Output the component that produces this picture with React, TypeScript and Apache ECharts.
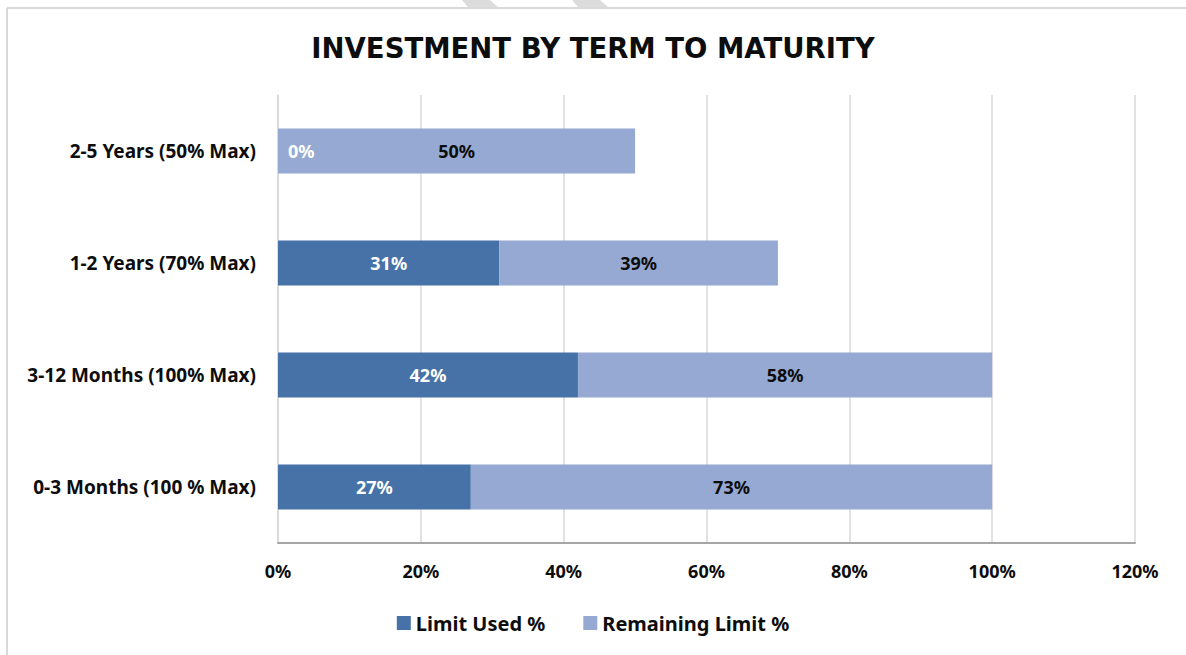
import React, { useEffect, useRef } from "react";
import * as echarts from "echarts";

const categories = [
  "0-3 Months (100 % Max)",
  "3-12 Months (100% Max)",
  "1-2 Years (70% Max)",
  "2-5 Years (50% Max)",
];
const limitUsed = [27, 42, 31, 0];
const remaining = [73, 58, 39, 50];
const xTicks = { min: 0, max: 120, interval: 20 };

const FONT = "'Noto Sans', 'Open Sans', sans-serif";

export default function App() {
  const ref = useRef<HTMLDivElement>(null);
  useEffect(() => {
    document.body.style.margin = "0";
    const chart = echarts.init(ref.current!, null, { renderer: "svg" });
    chart.setOption({
      animation: false,
      backgroundColor: "#ffffff",
      title: {
        text: "INVESTMENT BY TERM TO MATURITY",
        left: "center",
        top: 29,
        textStyle: { fontFamily: "'DejaVu Sans', sans-serif", fontWeight: "bold", fontSize: 27.5, color: "#0d0d0d" },
      },
      grid: { left: 278, right: 51, top: 95, bottom: 112, containLabel: false },
      legend: {
        bottom: 17,
        left: "center",
        itemWidth: 14,
        itemHeight: 14,
        itemGap: 38,
        icon: "rect",
        textStyle: { fontFamily: FONT, fontWeight: "bold", fontSize: 20, color: "#0d0d0d" },
        data: ["Limit Used %", "Remaining Limit %"],
      },
      xAxis: {
        type: "value",
        min: xTicks.min,
        max: xTicks.max,
        interval: xTicks.interval,
        axisLine: { show: true, lineStyle: { color: "#a6a6a6", width: 2 } },
        axisTick: { show: false },
        splitLine: { show: true, lineStyle: { color: "#d9d9d9", width: 1.5 } },
        axisLabel: {
          formatter: "{value}%",
          margin: 19,
          fontFamily: FONT,
          fontWeight: "bold",
          fontSize: 18,
          color: "#0d0d0d",
        },
      },
      yAxis: {
        type: "category",
        data: categories,
        axisLine: { show: true, lineStyle: { color: "#d9d9d9", width: 1.5 } },
        axisTick: { show: false },
        axisLabel: {
          margin: 22,
          fontFamily: FONT,
          fontWeight: "bold",
          fontSize: 19,
          color: "#0d0d0d",
        },
      },
      series: [
        {
          name: "Limit Used %",
          type: "bar",
          stack: "total",
          barWidth: 45,
          itemStyle: { color: "#4672A8" },
          label: {
            show: true,
            position: "inside",
            formatter: "{c}%",
            fontFamily: FONT,
            fontWeight: "bold",
            fontSize: 18,
            color: "#ffffff",
          },
          data: limitUsed.map((v) =>
            v === 0
              ? { value: v, label: { position: "right", distance: 10 } }
              : v
          ),
        },
        {
          name: "Remaining Limit %",
          type: "bar",
          stack: "total",
          barWidth: 45,
          itemStyle: { color: "#95A9D2" },
          label: {
            show: true,
            position: "inside",
            formatter: "{c}%",
            fontFamily: FONT,
            fontWeight: "bold",
            fontSize: 18,
            color: "#0d0d0d",
          },
          data: remaining,
        },
      ],
      graphic: [
        { type: "line", shape: { x1: 7, y1: 8, x2: 1186, y2: 8 }, style: { stroke: "#d9d9d9", lineWidth: 2 } },
        { type: "line", shape: { x1: 7, y1: 8, x2: 7, y2: 655 }, style: { stroke: "#d9d9d9", lineWidth: 2 } },
        { type: "polygon", shape: { points: [[462, 0], [490, 0], [498, 7], [468, 7]] }, style: { fill: "#dcdcdc" } },
        { type: "polygon", shape: { points: [[572, 0], [600, 0], [608, 7], [578, 7]] }, style: { fill: "#dcdcdc" } },
      ],
    });
    return () => chart.dispose();
  }, []);
  return <div ref={ref} style={{ width: 1186, height: 655 }} />;
}
